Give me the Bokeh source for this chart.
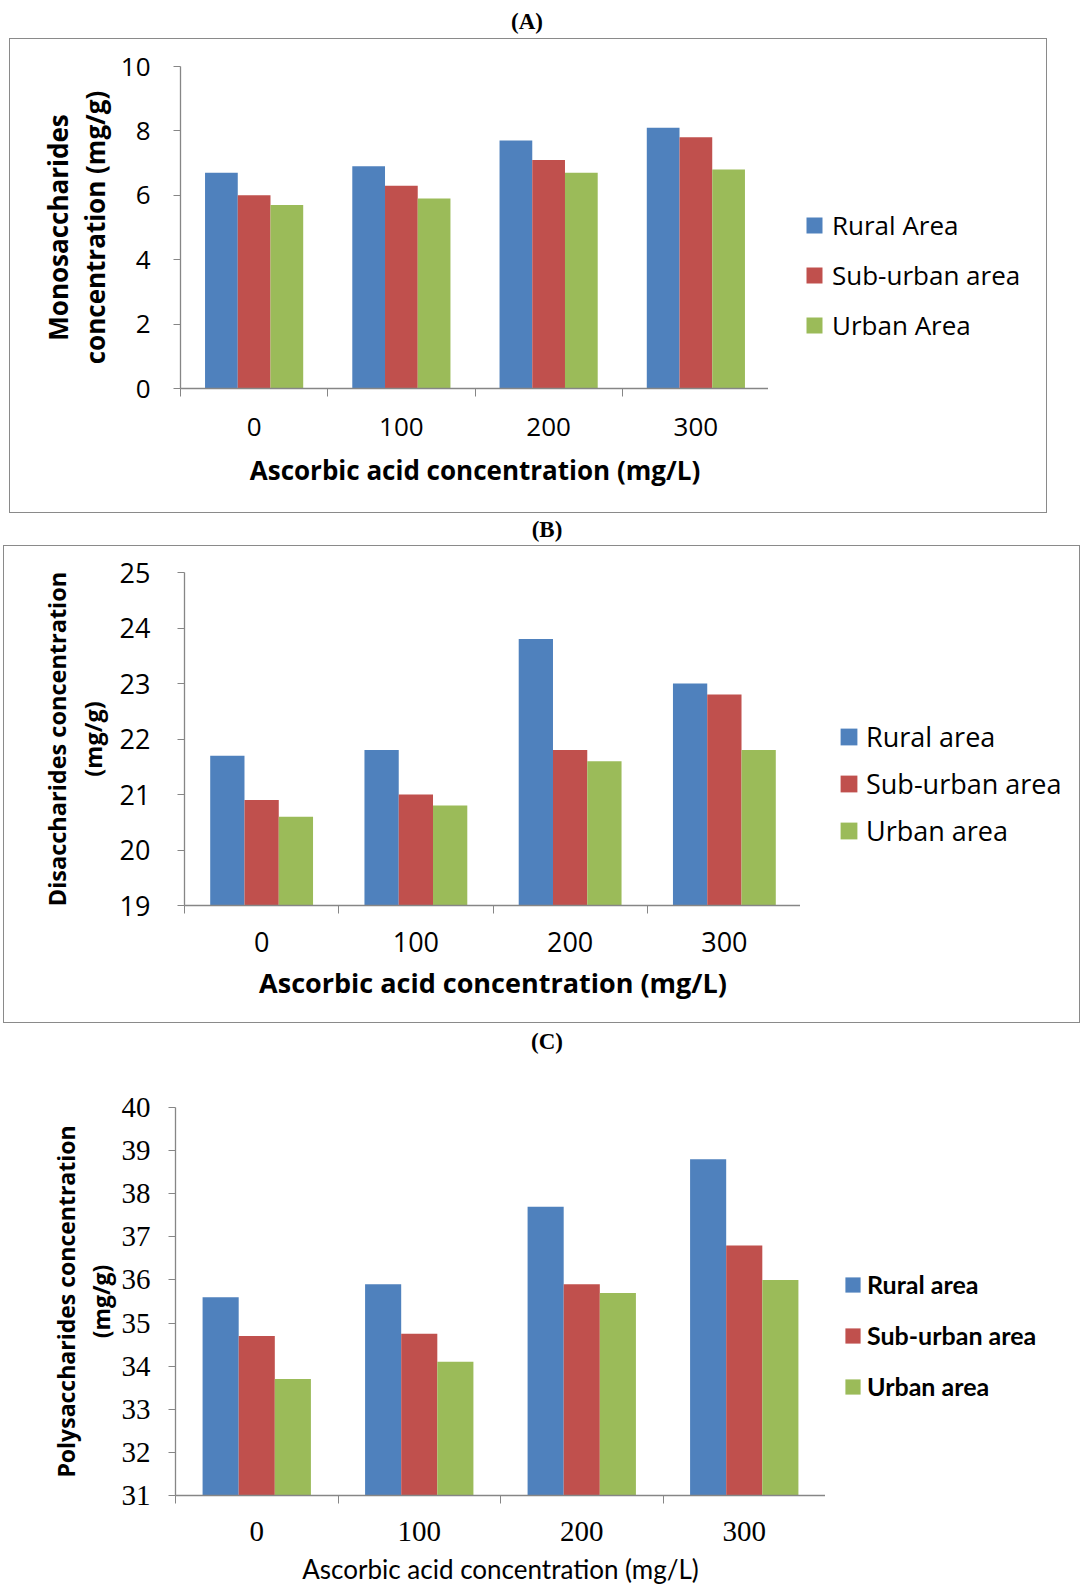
from bokeh.plotting import figure
from bokeh.models import (ColumnDataSource, FixedTicker, Legend, LegendItem, Div, Range1d)
from bokeh.layouts import column, row
from bokeh.transform import dodge
from bokeh.embed import file_html
from bokeh.resources import INLINE

# ---------------- data ----------------
doses = ["0", "100", "200", "300"]          # Ascorbic acid concentration (mg/L)

mono_rural = [6.7, 6.9, 7.7, 8.1]
mono_suburban = [6.0, 6.3, 7.1, 7.8]
mono_urban = [5.7, 5.9, 6.7, 6.8]
mono_names = ["Rural Area", "Sub-urban area", "Urban Area"]
mono_yticks = [0, 2, 4, 6, 8, 10]

di_rural = [21.7, 21.8, 23.8, 23.0]
di_suburban = [20.9, 21.0, 21.8, 22.8]
di_urban = [20.6, 20.8, 21.6, 21.8]
di_names = ["Rural area", "Sub-urban area", "Urban area"]
di_yticks = [19, 20, 21, 22, 23, 24, 25]

poly_rural = [35.6, 35.9, 37.7, 38.8]
poly_suburban = [34.7, 34.75, 35.9, 36.8]
poly_urban = [33.7, 34.1, 35.7, 36.0]
poly_names = ["Rural area", "Sub-urban area", "Urban area"]
poly_yticks = [31, 32, 33, 34, 35, 36, 37, 38, 39, 40]

COLORS = ["#4F81BD", "#C0504D", "#9BBB59"]
AXIS = "#868686"
BORDER = "1px solid #8a8a8a"
BAR_W = 1 / 4.5


def panel(series, names, yticks, ylabel, cfg):
    boxed = cfg["boxed"]
    st_main = {"border-left": BORDER, "border-top": BORDER, "border-bottom": BORDER} if boxed else {}
    st_leg = {"border-right": BORDER, "border-top": BORDER, "border-bottom": BORDER} if boxed else {}

    p = figure(width=cfg["w"], height=cfg["h"], output_backend="svg", toolbar_location=None,
               x_range=Range1d(0, len(doses)), y_range=Range1d(yticks[0], yticks[-1]),
               min_border_left=cfg["bl"], min_border_right=0,
               min_border_top=cfg["bt"], min_border_bottom=cfg["bb"],
               margin=(0, 0, 0, cfg["ml"]), styles=st_main)
    p.outline_line_color = None
    p.xgrid.visible = False
    p.ygrid.visible = False

    data = {"x": [i + 0.5 for i in range(len(doses))]}
    keys = ["s0", "s1", "s2"]
    for k, s in zip(keys, series):
        data[k] = s
    src = ColumnDataSource(data)
    for j, k in enumerate(keys):
        p.vbar(x=dodge("x", (j - 1) * BAR_W, range=p.x_range), top=k, bottom=yticks[0],
               width=BAR_W, source=src, fill_color=COLORS[j], line_color=None)

    # x axis: labels at category centres, tick marks at category boundaries
    xa = p.xaxis[0]
    xa.ticker = FixedTicker(ticks=data["x"], minor_ticks=list(range(len(doses) + 1)))
    xa.major_label_overrides = {x: d for x, d in zip(data["x"], doses)}
    xa.major_tick_line_color = None
    xa.major_tick_out = 0
    xa.major_tick_in = 0
    xa.minor_tick_line_color = AXIS
    xa.minor_tick_out = 8
    xa.minor_tick_in = 0
    xa.axis_line_color = AXIS
    xa.axis_line_width = 1.3
    xa.major_label_text_font = cfg["tick_font"]
    xa.major_label_text_font_size = cfg["tick_size"]
    xa.major_label_text_color = "black"
    xa.major_label_standoff = cfg["xl_standoff"]
    xa.axis_label = "Ascorbic acid concentration (mg/L)"
    xa.axis_label_text_font = cfg["xlab_font"]
    xa.axis_label_text_font_size = cfg["xlab_size"]
    xa.axis_label_text_font_style = cfg["xlab_style"]
    xa.axis_label_text_color = "black"
    xa.axis_label_standoff = cfg["xlab_standoff"]

    ya = p.yaxis[0]
    ya.ticker = FixedTicker(ticks=yticks)
    ya.minor_tick_line_color = None
    ya.major_tick_line_color = AXIS
    ya.major_tick_out = 7
    ya.major_tick_in = 0
    ya.axis_line_color = AXIS
    ya.axis_line_width = 1.3
    ya.major_label_text_font = cfg["tick_font"]
    ya.major_label_text_font_size = cfg["tick_size"]
    ya.major_label_text_color = "black"
    ya.major_label_standoff = cfg["yl_standoff"]
    ya.axis_label = ylabel
    ya.axis_label_text_font = "Open Sans"
    ya.axis_label_text_font_style = "bold"
    ya.axis_label_text_font_size = cfg["ylab_size"]
    ya.axis_label_text_line_height = cfg["ylab_lh"]
    ya.axis_label_text_color = "black"
    ya.axis_label_standoff = cfg["ylab_standoff"]

    # legend panel: a companion figure; its key renderers use the same source but
    # lie outside its (empty) x range, so only the legend is visible there
    q = figure(width=cfg["lw"], height=cfg["h"], output_backend="svg", toolbar_location=None,
               x_range=Range1d(-3, -2), y_range=Range1d(yticks[0], yticks[-1]),
               x_axis_location=None, y_axis_location=None,
               min_border_left=0, min_border_right=0, min_border_top=0, min_border_bottom=0,
               margin=(0, 0, 0, 0), styles=st_leg)
    q.outline_line_color = None
    q.xgrid.visible = False
    q.ygrid.visible = False
    items = []
    for j, (k, nm) in enumerate(zip(keys, names)):
        r = q.vbar(x="x", top=k, bottom=yticks[0], width=BAR_W, source=src,
                   fill_color=COLORS[j], line_color=None)
        items.append(LegendItem(label=nm, renderers=[r]))
    leg = Legend(items=items, location=cfg["leg_loc"], orientation="vertical",
                 glyph_width=cfg["glyph"], glyph_height=cfg["glyph"],
                 label_standoff=cfg["leg_standoff"], label_height=30, spacing=cfg["leg_spacing"],
                 padding=0, margin=0, border_line_color=None, background_fill_alpha=0,
                 label_text_font=cfg["leg_font"], label_text_font_size=cfg["leg_size"],
                 label_text_font_style=cfg.get("leg_style", "normal"),
                 label_text_color="black")
    q.add_layout(leg)
    return row(p, q, spacing=0, margin=(0, 0, 0, 0))


cfgA = dict(boxed=True, w=759, lw=279, h=475, ml=9, bl=170, bt=27, bb=126,
            tick_font="Open Sans", tick_size="26px", xl_standoff=21, yl_standoff=23,
            xlab_font="Open Sans", xlab_size="26px", xlab_style="bold", xlab_standoff=13,
            ylab_size="26px", ylab_lh=1.02, ylab_standoff=5,
            leg_loc=(36, 45), glyph=20, leg_standoff=8, leg_spacing=14,
            leg_font="Open Sans", leg_size="26px")
cfgB = dict(boxed=True, w=797, lw=280, h=478, ml=3, bl=180, bt=26, bb=119,
            tick_font="Open Sans", tick_size="27px", xl_standoff=18, yl_standoff=27,
            xlab_font="Open Sans", xlab_size="27px", xlab_style="bold", xlab_standoff=9,
            ylab_size="23.5px", ylab_lh=1.12, ylab_standoff=8,
            leg_loc=(38, 56), glyph=21, leg_standoff=7, leg_spacing=10,
            leg_font="Open Sans", leg_size="27px")
cfgC = dict(boxed=False, w=825, lw=250, h=527, ml=0, bl=175, bt=47, bb=92,
            tick_font="Liberation Serif", tick_size="29px", xl_standoff=18, yl_standoff=18,
            xlab_font="Lato", xlab_size="26px", xlab_style="normal", xlab_standoff=9,
            ylab_size="23px", ylab_lh=1.09, ylab_standoff=2,
            leg_loc=(18, 94), glyph=19, leg_standoff=5, leg_spacing=21,
            leg_font="Lato", leg_size="25px", leg_style="bold")

pA = panel([mono_rural, mono_suburban, mono_urban], mono_names, mono_yticks,
           "Monosaccharides\nconcentration (mg/g)", cfgA)
pB = panel([di_rural, di_suburban, di_urban], di_names, di_yticks,
           "Disaccharides concentration\n(mg/g)", cfgB)
pC = panel([poly_rural, poly_suburban, poly_urban], poly_names, poly_yticks,
           "Polysaccharides concentration\n(mg/g)", cfgC)


def title_div(txt, h, lh, cx):
    return Div(text=txt, width=2 * cx, height=h, margin=(0, 0, 0, 0),
               styles={"text-align": "center", "font-family": "'Liberation Serif', serif",
                       "font-weight": "bold", "font-size": "23px", "line-height": f"{lh}px",
                       "width": f"{2 * cx}px", "overflow": "visible"})


layout = column(title_div("(A)", 38, 44, 527), pA,
                title_div("(B)", 32, 34, 547), pB,
                title_div("(C)", 37, 37, 547), pC,
                spacing=0, margin=(0, 0, 0, 0))

open("out.html", "w").write(file_html(layout, INLINE))
